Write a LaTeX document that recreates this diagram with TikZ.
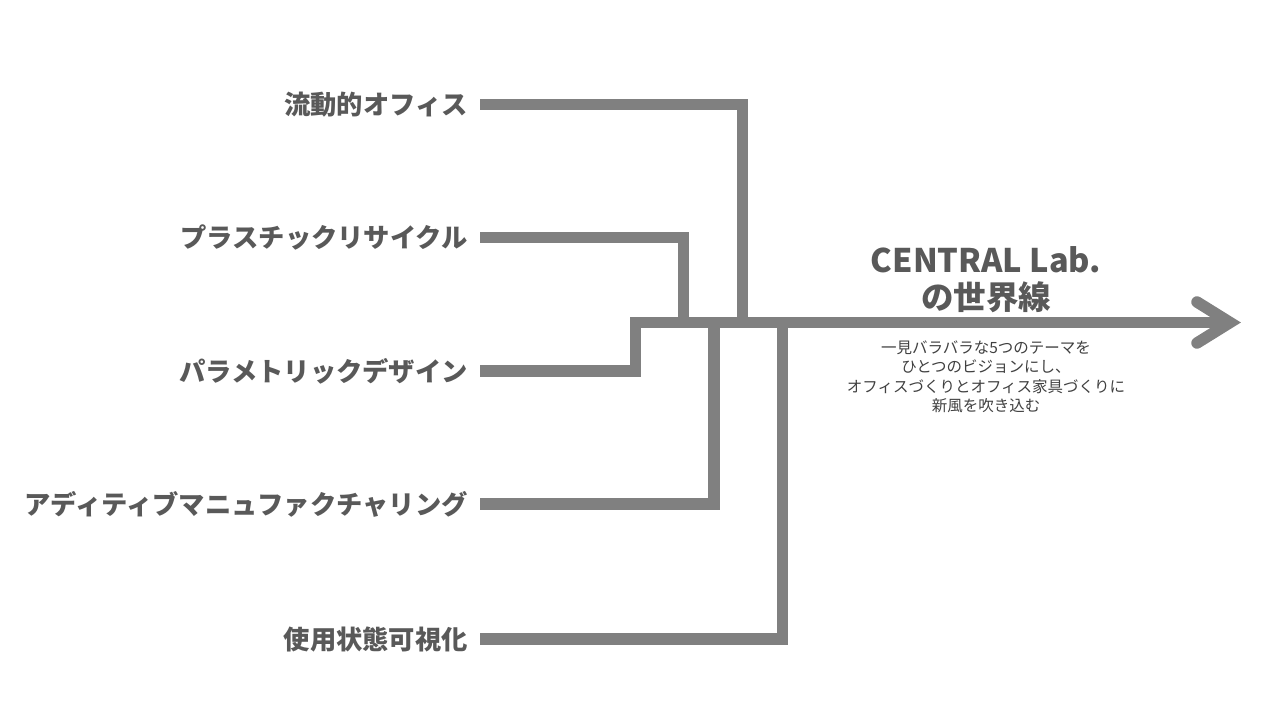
\documentclass[tikz,border=0pt]{standalone}
\usepackage{fontspec}
\setmainfont{Noto Sans CJK JP}
\definecolor{lineg}{RGB}{128,128,128}
\definecolor{textg}{RGB}{89,89,89}
\definecolor{smallg}{RGB}{64,64,64}
\tikzset{
  flow/.style={draw=lineg, line width=11.5pt, line join=miter, line cap=butt},
  lbl/.style={anchor=east, inner sep=0pt, text=textg, font=\fontsize{26.3}{31}\selectfont\bfseries},
}
\begin{document}
\begin{tikzpicture}[x=1pt,y=-1pt]
\useasboundingbox (0,0) rectangle (1280,720);
% labels
\node[lbl] (a) at (468,104.5) {流動的オフィス};
\node[lbl] (b) at (468,237.5) {プラスチックリサイクル};
\node[lbl] (c) at (468,371) {パラメトリックデザイン};
\node[lbl] (d) at (468,504) {アディティブマニュファクチャリング};
\node[lbl] (e) at (468,639) {使用状態可視化};
% coordinates
\coordinate (a0) at (480,104.5);
\coordinate (b0) at (480,237.5);
\coordinate (c0) at (480,371);
\coordinate (d0) at (480,504);
\coordinate (e0) at (480,639);
\coordinate (ja) at (742.5,322.5);
\coordinate (jb) at (683.5,322.5);
\coordinate (jc) at (635.5,322.5);
\coordinate (jd) at (713.8,322.5);
\coordinate (je) at (782.5,322.5);
\coordinate (tip) at (1230,322.5);
% connectors
\draw[flow] (a0) -| (ja);
\draw[flow] (b0) -| (jb);
\draw[flow] (d0) -| (jd);
\draw[flow] (e0) -| (je);
\draw[flow] (c0) -| (jc) -- (tip);
\draw[flow, line cap=round] (1197,302) -- (tip) -- (1197,343);
% title
\node[text=textg, font=\fontsize{32.5}{37}\selectfont\bfseries, align=center, inner sep=0pt] (t) at (986,280) {CENTRAL Lab.\\の世界線};
\node[text=smallg, font=\fontsize{15.5}{19.5}\selectfont, align=center, inner sep=0pt] (s) at (986,377) {一見バラバラな5つのテーマを\\ひとつのビジョンにし、\\オフィスづくりとオフィス家具づくりに\\新風を吹き込む};
\end{tikzpicture}
\end{document}
